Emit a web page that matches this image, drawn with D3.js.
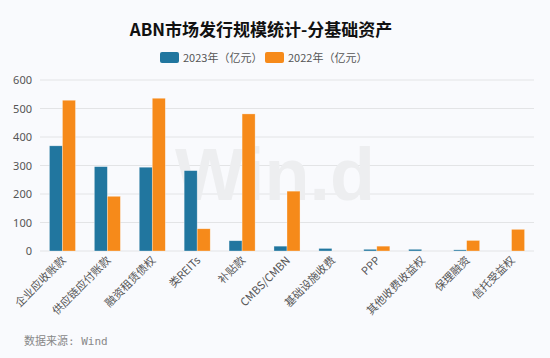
<!DOCTYPE html>
<html><head><meta charset="utf-8">
<script src="https://cdn.jsdelivr.net/npm/d3@7"></script>
<style>body{margin:0;background:#f9fafd;}svg{display:block;}</style>
</head><body><div id="c"></div>
<script>
const categories = ["企业应收账款","供应链应付账款","融资租赁债权","类REITs","补贴款","CMBS/CMBN","基础设施收费","PPP","其他收费收益权","保理融资","信托受益权"];
const series2023 = [369,296,294,282,36,17,9,6,6,4,0];
const series2022 = [529,192,536,78,481,210,0,17,0,37,76];
const seriesNames = ["2023年（亿元）","2022年（亿元）"];
const yTicks = [0,100,200,300,400,500,600];

const W=550,H=358;
const m={l:40,r:16,t:80,b:107};
const svg=d3.select("#c").append("svg").attr("width",W).attr("height",H);
svg.append("rect").attr("width",W).attr("height",H).attr("fill","#f9fafd");

const x=d3.scaleBand().domain(categories).range([m.l,W-m.r]).paddingInner(0.42).paddingOuter(0.21);
const x1=d3.scaleBand().domain([0,1]).range([0,x.bandwidth()]);
const y=d3.scaleLinear().domain([0,600]).range([H-m.b,m.t]);
const colors=["#21769f","#f68a1a"];

// grid
svg.append("g").selectAll("line").data(yTicks).join("line")
 .attr("x1",m.l).attr("x2",W-m.r).attr("y1",d=>y(d)).attr("y2",d=>y(d))
 .attr("stroke","#e3e4e6").attr("stroke-width",1);

// watermark
svg.append("text").attr("x",275).attr("y",200).attr("text-anchor","middle")
 .attr("font-family","Arial, Liberation Sans, sans-serif").attr("font-weight","bold")
 .attr("font-size",74).attr("textLength",200).attr("lengthAdjust","spacingAndGlyphs")
 .attr("fill","#edeef0").text("Win.d");

// y labels
svg.append("g").selectAll("text").data(yTicks).join("text")
 .attr("x",32).attr("y",d=>y(d)+4).attr("text-anchor","end")
 .attr("font-family","Noto Sans, sans-serif").attr("font-size",11).attr("fill","#555").text(d=>d);

// bars
const data=[series2023,series2022];
data.forEach((s,i)=>{
 svg.append("g").selectAll("rect").data(s).join("rect")
  .attr("x",(d,j)=>x(categories[j])+x1(i)).attr("width",x1.bandwidth())
  .attr("y",d=>y(d)).attr("height",d=>y(0)-y(d))
  .attr("fill",colors[i]).attr("stroke","#ffffff").attr("stroke-opacity",0.5).attr("stroke-width",0.6);
});

// x labels
svg.append("g").selectAll("text").data(categories).join("text")
 .attr("transform",d=>`translate(${x(d)+x.bandwidth()/2+4},${H-m.b+10}) rotate(-45)`)
 .attr("text-anchor","end").attr("font-family","Noto Sans CJK SC, sans-serif")
 .attr("font-size",11).attr("fill","#555").text(d=>d);

// title
svg.append("text").attr("x",261).attr("y",36).attr("text-anchor","middle")
 .attr("font-family","Noto Sans CJK SC, sans-serif").attr("font-weight","bold")
 .attr("font-size",17).attr("fill","#111").text("ABN市场发行规模统计-分基础资产");

// legend
const lg=[{x:160},{x:265}];
seriesNames.forEach((n,i)=>{
 svg.append("rect").attr("x",lg[i].x).attr("y",52).attr("width",19).attr("height",11).attr("rx",2).attr("fill",colors[i]);
 svg.append("text").attr("x",lg[i].x+23).attr("y",62).attr("font-family","Noto Sans CJK SC, sans-serif")
  .attr("font-size",11).attr("fill","#555").text(n);
});

// source
svg.append("text").attr("x",24).attr("y",345).attr("font-family","DejaVu Sans Mono, Noto Sans CJK SC, monospace")
 .attr("font-size",11).attr("fill","#888").text("数据来源: Wind");
</script></body></html>
